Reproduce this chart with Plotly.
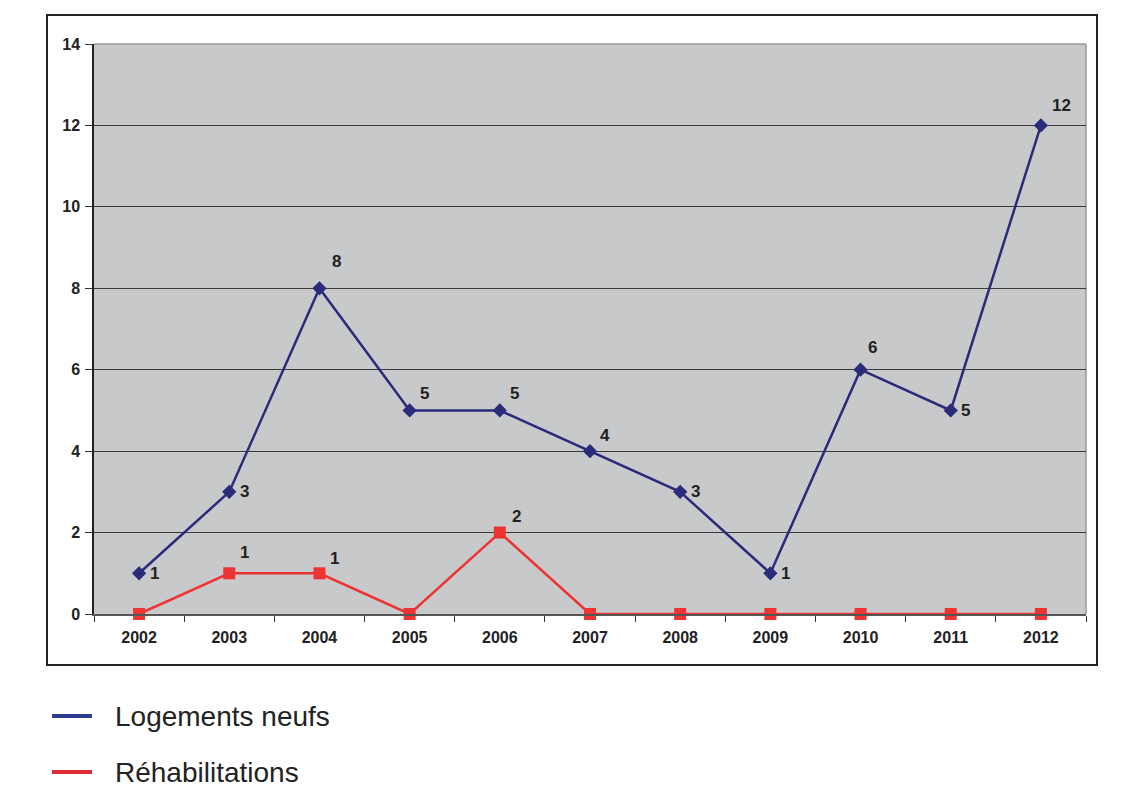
import plotly.graph_objects as go

years = ["2002", "2003", "2004", "2005", "2006", "2007", "2008", "2009", "2010", "2011", "2012"]
logements_neufs = [1, 3, 8, 5, 5, 4, 3, 1, 6, 5, 12]
rehabilitations = [0, 1, 1, 0, 2, 0, 0, 0, 0, 0, 0]
y_ticks = [0, 2, 4, 6, 8, 10, 12, 14]

blue = "#2B2B7B"
red = "#EE3333"
FONT = "Liberation Sans, Arial"

# the page body has an 8px margin; compensate so the figure lands where the reference is
OFF = 8
L, T, PW, PH = 94 - OFF, 44 - OFF, 992, 570
W, H = 1141, 788

fig = go.Figure()
fig.add_trace(go.Scatter(x=years, y=logements_neufs, mode="lines+markers", name="Logements neufs",
                         line=dict(color=blue, width=2.5), cliponaxis=False,
                         marker=dict(symbol="diamond", size=11, color=blue)))
fig.add_trace(go.Scatter(x=years, y=rehabilitations, mode="lines+markers", name="Réhabilitations",
                         line=dict(color=red, width=2.5), cliponaxis=False,
                         marker=dict(symbol="square", size=12, color=red)))

lab_font = dict(family=FONT, size=17, color="#222222")
blue_off = [(15, 0), (15, 0), (17, 27), (15, 17), (15, 17), (15, 16), (15, 0), (15, 0), (12, 22), (15, 0), (21, 20)]
for i, (v, (dx, dy)) in enumerate(zip(logements_neufs, blue_off)):
    fig.add_annotation(x=i, y=v, xref="x", yref="y", text="<b>%d</b>" % v, showarrow=False,
                       xshift=dx, yshift=dy, font=lab_font)
red_off = {1: (15, 21), 2: (15, 15), 4: (17, 16)}
for i, v in enumerate(rehabilitations):
    if v != 0:
        dx, dy = red_off.get(i, (15, 16))
        fig.add_annotation(x=i, y=v, xref="x", yref="y", text="<b>%d</b>" % v, showarrow=False,
                           xshift=dx, yshift=dy, font=lab_font)


def px(xp):
    return (xp - 94) / PW


def py(yp):
    return (614 - yp) / PH


# outer frame
fig.add_shape(type="rect", xref="paper", yref="paper", x0=px(47), x1=px(1097), y0=py(665), y1=py(15),
              line=dict(color="#222222", width=2), fillcolor="rgba(0,0,0,0)", layer="above")
# plot area top/right gray border
fig.add_shape(type="line", xref="paper", yref="paper", x0=0, x1=1, y0=1, y1=1,
              line=dict(color="#9A9A9A", width=1.5), layer="between")
fig.add_shape(type="line", xref="paper", yref="paper", x0=1, x1=1, y0=0, y1=1,
              line=dict(color="#9A9A9A", width=1.5), layer="between")

# legend drawn manually
leg_items = [("Logements neufs", "#2E3D8F", 716), ("Réhabilitations", "#DD2A35", 772)]
for name, col, ypix in leg_items:
    fig.add_shape(type="line", xref="paper", yref="paper", x0=px(52), x1=px(92),
                  y0=py(ypix), y1=py(ypix), line=dict(color=col, width=4))
    fig.add_annotation(xref="paper", yref="paper", x=px(113), y=py(ypix), text=name, showarrow=False,
                       xanchor="left", yanchor="middle",
                       font=dict(family=FONT, size=28, color="#222222"))

fig.update_layout(
    width=W, height=H,
    margin=dict(l=L, r=W - L - PW, t=T, b=H - T - PH, pad=0),
    paper_bgcolor="white", plot_bgcolor="#C8C9CB",
    showlegend=False,
    font=dict(family=FONT, color="#222222"),
)
fig.update_xaxes(type="category", range=[-0.5, 10.5], showgrid=False, tickson="boundaries",
                 ticks="outside", ticklen=6, tickcolor="#333333", showline=True, linecolor="#555555", linewidth=1.5,
                 tickfont=dict(size=16, family=FONT, color="#222222"),
                 tickmode="array", tickvals=years, ticktext=["<b>%s</b>" % y for y in years],
                 ticklabelstandoff=8)
fig.update_yaxes(range=[0, 14], tickmode="array", tickvals=y_ticks, ticktext=["<b>%d</b>" % t for t in y_ticks],
                 showgrid=True, gridcolor="#3A3A3A", gridwidth=1,
                 zeroline=False, ticks="outside", ticklen=7, tickcolor="#333333", showline=True,
                 linecolor="#222222", linewidth=1.5,
                 tickfont=dict(size=16, family=FONT, color="#222222"),
                 ticklabelstandoff=2)

fig.write_html("out.html")
